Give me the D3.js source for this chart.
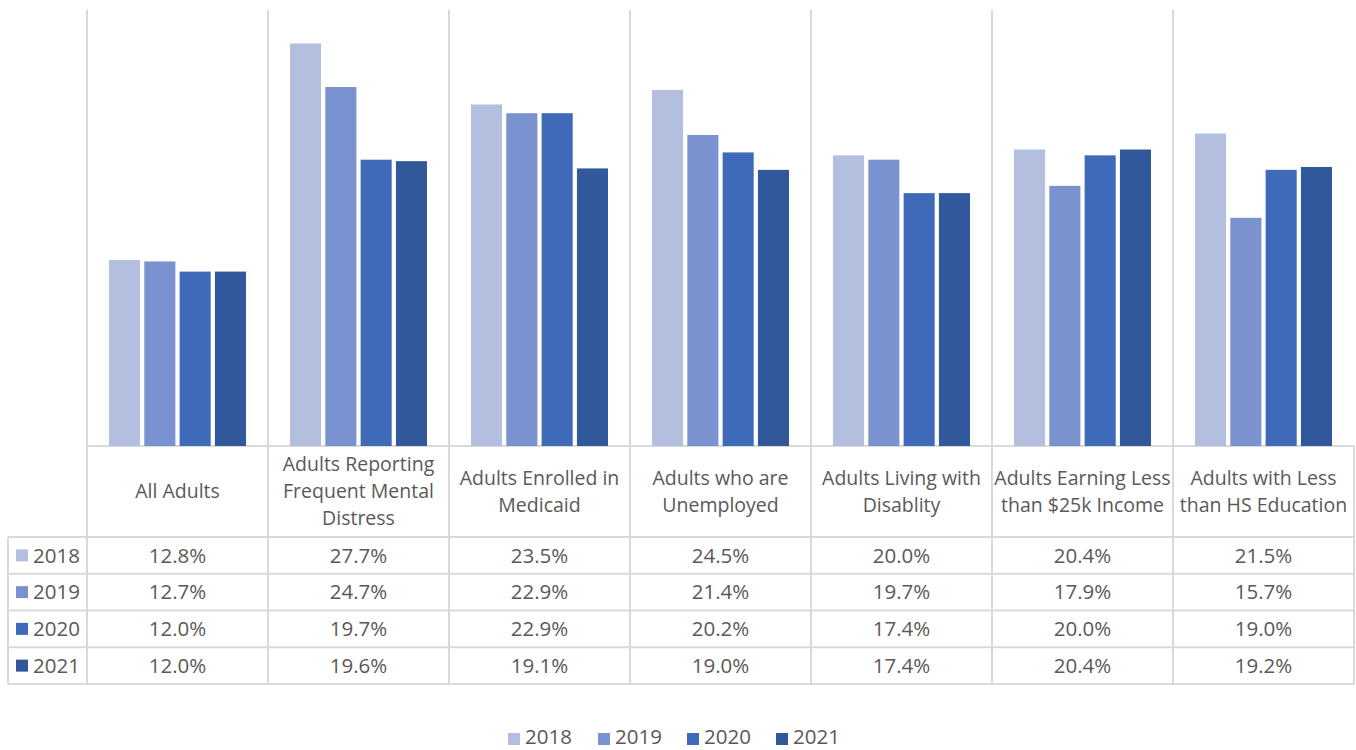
<!DOCTYPE html>
<html>
<head>
<meta charset="utf-8">
<script src="https://cdn.jsdelivr.net/npm/d3@7"></script>
<style>
  body { margin: 0; background: #fff; }
  text { font-family: "Open Sans", "Noto Sans", sans-serif; fill: #595959; }
</style>
</head>
<body>
<div id="chart"></div>
<script>
var categories = [
  ['All Adults'],
  ['Adults Reporting', 'Frequent Mental', 'Distress'],
  ['Adults Enrolled in', 'Medicaid'],
  ['Adults who are', 'Unemployed'],
  ['Adults Living with', 'Disablity'],
  ['Adults Earning Less', 'than $25k Income'],
  ['Adults with Less', 'than HS Education']
]
var years = ['2018', '2019', '2020', '2021']
var values2018 = [12.8, 27.7, 23.5, 24.5, 20.0, 20.4, 21.5]
var values2019 = [12.7, 24.7, 22.9, 21.4, 19.7, 17.9, 15.7]
var values2020 = [12.0, 19.7, 22.9, 20.2, 17.4, 20.0, 19.0]
var values2021 = [12.0, 19.6, 19.1, 19.0, 17.4, 20.4, 19.2]
var colors = ['#b4bfe0', '#7a92cf', '#3f6ab9', '#31589a']

var series = [values2018, values2019, values2020, values2021]

var width = 1356
var height = 750

var margin = {
  'top' : 10,
  'left' : 87,
  'right' : 2,
  'tableLeft' : 8
}
var baseline = 446
var headerBottom = 537
var rowHeight = 36.75
var gridColor = '#d9d9d9'
var labelSize = 19.5
var numSize = 20.5

var svg = d3.select('#chart').append('svg')
  .attr('width', width)
  .attr('height', height)

var catIdx = d3.range(categories.length)

var x0 = d3.scaleBand()
  .domain(catIdx)
  .range([margin.left, width - margin.right])
  .padding(0)

var x1 = d3.scaleBand()
  .domain(d3.range(years.length))
  .range([22, x0.bandwidth() - 22])
  .paddingInner(0.12)

var yScale = d3.scaleLinear()
  .domain([0, 30])
  .range([baseline, margin.top])

var tableBottom = headerBottom + rowHeight * years.length

// vertical grid lines (category borders), through chart and table
var vlines = catIdx.map(function(i) { return x0(i) }).concat([width - margin.right])
svg.append('g').selectAll('line')
  .data(vlines)
  .enter().append('line')
  .attr('x1', function(d) { return d })
  .attr('x2', function(d) { return d })
  .attr('y1', function(d, i) { return i === vlines.length - 1 ? baseline : margin.top })
  .attr('y2', tableBottom)
  .attr('stroke', gridColor)
  .attr('stroke-width', 2)

// left border of the table rows
svg.append('line')
  .attr('x1', margin.tableLeft).attr('x2', margin.tableLeft)
  .attr('y1', headerBottom).attr('y2', tableBottom)
  .attr('stroke', gridColor).attr('stroke-width', 2)

// horizontal lines
svg.append('line')
  .attr('x1', margin.left).attr('x2', width - margin.right)
  .attr('y1', baseline).attr('y2', baseline)
  .attr('stroke', gridColor).attr('stroke-width', 2)

svg.append('g').selectAll('line')
  .data(d3.range(years.length + 1))
  .enter().append('line')
  .attr('x1', margin.tableLeft)
  .attr('x2', width - margin.right)
  .attr('y1', function(d) { return headerBottom + d * rowHeight })
  .attr('y2', function(d) { return headerBottom + d * rowHeight })
  .attr('stroke', gridColor)
  .attr('stroke-width', 2)

// bars
var groups = svg.append('g').selectAll('g')
  .data(series)
  .enter().append('g')
  .attr('fill', function(d, i) { return colors[i] })

groups.each(function(vals, s) {
  d3.select(this).selectAll('rect')
    .data(vals)
    .enter().append('rect')
    .attr('x', function(d, i) { return x0(i) + x1(s) })
    .attr('width', x1.bandwidth())
    .attr('y', function(d) { return yScale(d) })
    .attr('height', function(d) { return baseline - yScale(d) })
})

// header labels
var headerMid = (baseline + headerBottom) / 2
var lineH = 27
svg.append('g').selectAll('text')
  .data(categories)
  .enter().append('text')
  .attr('text-anchor', 'middle')
  .attr('font-size', labelSize)
  .each(function(lines, i) {
    var t = d3.select(this)
    var start = headerMid - (lines.length - 1) * lineH / 2
    lines.forEach(function(l, k) {
      t.append('tspan')
        .attr('x', x0(i) + x0.bandwidth() / 2)
        .attr('y', start + k * lineH)
        .attr('dy', '0.35em')
        .text(l)
    })
  })

// table rows
series.forEach(function(vals, s) {
  var cy = headerBottom + rowHeight * (s + 0.5)
  svg.append('rect')
    .attr('x', 16).attr('y', cy - 6)
    .attr('width', 12).attr('height', 12)
    .attr('fill', colors[s])
  svg.append('text')
    .attr('x', 33).attr('y', cy).attr('dy', '0.35em')
    .attr('font-size', numSize)
    .text(years[s])
  svg.append('g').selectAll('text')
    .data(vals)
    .enter().append('text')
    .attr('x', function(d, i) { return x0(i) + x0.bandwidth() / 2 })
    .attr('y', cy)
    .attr('dy', '0.35em')
    .attr('text-anchor', 'middle')
    .attr('font-size', numSize)
    .text(function(d) { return d.toFixed(1) + '%' })
})

// bottom legend
var legendX = [508, 598, 687, 776]
var legend = svg.append('g').selectAll('g')
  .data(years)
  .enter().append('g')
  .attr('transform', function(d, i) { return 'translate(' + legendX[i] + ',737)' })
legend.append('rect')
  .attr('x', 0).attr('y', -4)
  .attr('width', 12).attr('height', 12)
  .attr('fill', function(d, i) { return colors[i] })
legend.append('text')
  .attr('x', 17).attr('dy', '0.35em')
  .attr('font-size', numSize)
  .text(function(d) { return d })
</script>
</body>
</html>
